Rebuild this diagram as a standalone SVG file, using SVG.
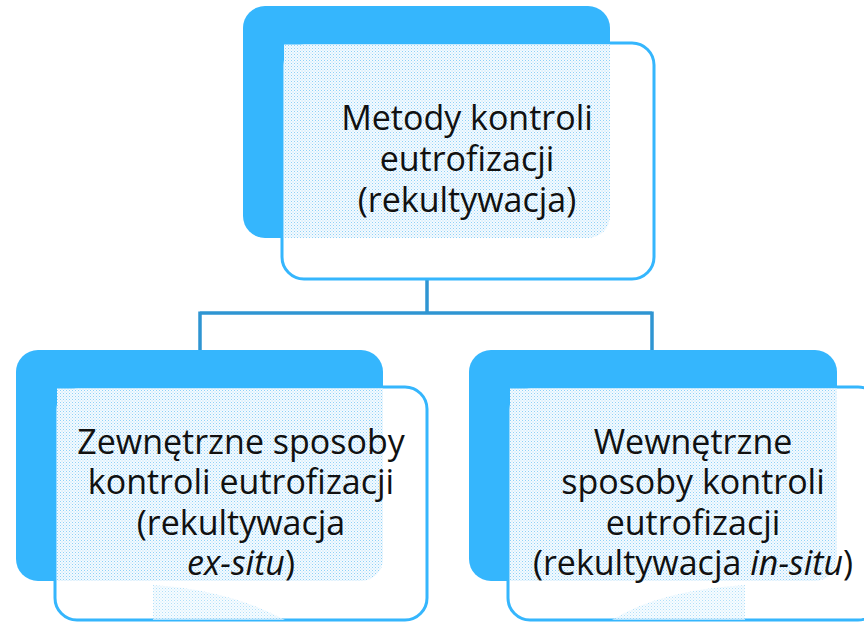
<svg xmlns="http://www.w3.org/2000/svg" width="864" height="622" viewBox="0 0 864 622">
<defs>
<pattern id="dots" width="3" height="3" patternUnits="userSpaceOnUse">
<rect width="3" height="3" fill="#f4fafe"/>
<rect x="0" y="0" width="1" height="1" fill="#8fd1f7"/>
<rect x="1.5" y="1.5" width="1" height="1" fill="#b3e0fa"/>
</pattern>
<style>
.back{fill:#35b6fd;}
.front{fill:#ffffff;stroke:#35b6fd;stroke-width:3;}
.tex{fill:url(#dots);}
.lbl{font-family:"Open Sans","Noto Sans",sans-serif;font-size:34px;fill:#111111;text-anchor:middle;}
.conn{fill:none;stroke:#2f95d2;stroke-width:3.5;}
</style>
</defs>
<g id="connectors">
<path class="conn" d="M427 279 V313 M200 313 H652 M200 311.5 V350 M652 311.5 V350"/>
</g>
<g id="node-top">
<rect class="back" x="243" y="6" width="367" height="232" rx="22"/>
<rect class="front" x="282" y="43" width="372" height="236" rx="22"/>
<path class="tex" d="M284 44.5 H610 V216 A22 22 0 0 1 588 238 H284 Z"/>
<text class="lbl" x="467" y="130">Metody kontroli</text>
<text class="lbl" x="467" y="171">eutrofizacji</text>
<text class="lbl" x="467" y="212">(rekultywacja)</text>
</g>
<g id="node-left">
<rect class="back" x="16" y="350" width="367" height="231" rx="22"/>
<rect class="front" x="55" y="387" width="372" height="233" rx="22"/>
<path class="tex" d="M57 388.5 H383 V559 A22 22 0 0 1 361 581 H57 Z"/>
<path class="tex" d="M153 585 Q230 590 285 620 H153 Z" opacity="0.7"/>
<text class="lbl" x="241" y="454">Zewnętrzne sposoby</text>
<text class="lbl" x="241" y="494">kontroli eutrofizacji</text>
<text class="lbl" x="241" y="535">(rekultywacja</text>
<text class="lbl" x="241" y="575"><tspan font-style="italic">ex-situ</tspan>)</text>
</g>
<g id="node-right">
<rect class="back" x="469" y="350" width="368" height="231" rx="22"/>
<rect class="front" x="508" y="387" width="372" height="233" rx="22"/>
<path class="tex" d="M510 388.5 H837 V559 A22 22 0 0 1 815 581 H510 Z"/>
<path class="tex" d="M612 620 Q660 590 745 585 V620 Z" opacity="0.7"/>
<text class="lbl" x="693" y="454">Wewnętrzne</text>
<text class="lbl" x="693" y="494">sposoby kontroli</text>
<text class="lbl" x="693" y="535">eutrofizacji</text>
<text class="lbl" x="693" y="575">(rekultywacja <tspan font-style="italic">in-situ</tspan>)</text>
</g>
</svg>
